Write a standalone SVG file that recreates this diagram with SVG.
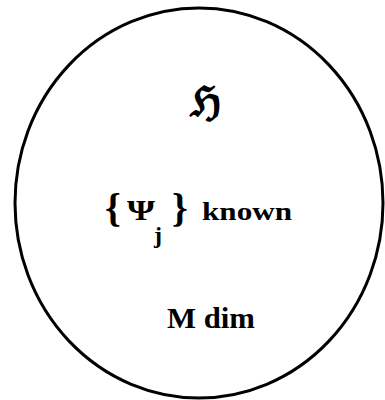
<svg xmlns="http://www.w3.org/2000/svg" width="385" height="400" viewBox="0 0 385 400">
<style>
.t{font-family:"Liberation Serif","DejaVu Serif",serif;font-weight:bold;fill:#000}
</style>
<rect width="385" height="400" fill="#fff"/>
<g id="space">
<ellipse cx="199" cy="203" rx="184" ry="195" fill="none" stroke="#000" stroke-width="3"/>
</g>
<g id="labels">
<text class="t" x="205" y="116" font-size="42" text-anchor="middle" font-family="DejaVu Serif">ℌ</text>
<text class="t" x="105" y="221" font-size="40" font-weight="normal">{</text>
<text class="t" x="127" y="220" font-size="29" textLength="28" lengthAdjust="spacingAndGlyphs">Ψ</text>
<text class="t" x="154" y="243" font-size="24">j</text>
<text class="t" x="172" y="221" font-size="40" font-weight="normal">}</text>
<text class="t" x="202" y="220" font-size="26" textLength="90" lengthAdjust="spacingAndGlyphs">known</text>
<text class="t" x="167" y="328" font-size="29" textLength="88" lengthAdjust="spacingAndGlyphs">M dim</text>
</g>
</svg>
